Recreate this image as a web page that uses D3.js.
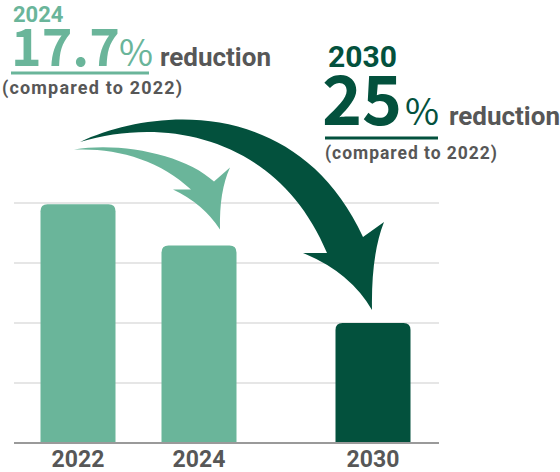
<!DOCTYPE html>
<html>
<head>
<meta charset="utf-8">
<script src="https://cdn.jsdelivr.net/npm/d3@7"></script>
<style>
  html, body { margin: 0; padding: 0; background: #fff; }
  svg { display: block; }
</style>
</head>
<body>
<svg id="chart" width="560" height="472"></svg>
<script>
// data
const years = ['2022', '2024', '2030'];
const emissions = [3.98, 3.29, 2.0];   // relative level
const gridTicks = [1, 2, 3, 4];
const barColors = ['#6ab59a', '#6ab59a', '#03513d'];

const LIGHT = '#6ab59a';
const DARK = '#03513d';
const GRAY = '#575757';

const svg = d3.select('#chart');

// scales
const x = d3.scaleOrdinal().domain(years).range([78, 199, 373]);
const y = d3.scaleLinear().domain([0, 4]).range([443, 203]);
const barW = 75;
const r = 7;

// grid
svg.append('g')
    .selectAll('line')
    .data(gridTicks)
    .enter()
    .append('line')
    .attr('x1', 14).attr('x2', 439)
    .attr('y1', d => y(d)).attr('y2', d => y(d))
    .attr('stroke', '#dedede')
    .attr('stroke-width', 1.5);

// bars, rounded top corners only
const barPath = (cx, top, bottom) => {
    const l = cx - barW / 2, rt = cx + barW / 2;
    return `M${l},${bottom}V${top + r}Q${l},${top} ${l + r},${top}H${rt - r}Q${rt},${top} ${rt},${top + r}V${bottom}Z`;
};

svg.append('g')
    .selectAll('path')
    .data(years)
    .enter()
    .append('path')
    .attr('d', (d, i) => barPath(x(d), y(emissions[i]), y(0)))
    .attr('fill', (d, i) => barColors[i]);

// baseline
svg.append('line')
    .attr('x1', 14).attr('x2', 439)
    .attr('y1', y(0)).attr('y2', y(0))
    .attr('stroke', '#9a9a9a')
    .attr('stroke-width', 2);

// x labels
svg.append('g')
    .selectAll('text')
    .data(years)
    .enter()
    .append('text')
    .attr('x', d => x(d))
    .attr('y', 467)
    .attr('text-anchor', 'middle')
    .attr('font-family', 'Roboto, sans-serif')
    .attr('font-weight', 700)
    .attr('font-size', 23)
    .attr('fill', GRAY)
    .text(d => d);

// curved arrows, points relative to the tip
const arrowPath = (tip, p) => {
    const P = ([dx, dy]) => `${tip[0] + dx},${tip[1] + dy}`;
    return `M${P(p.tail)}` +
        `C${P(p.o1)} ${P(p.o2)} ${P(p.rn)}` +
        `L${P(p.rb)}` +
        `Q${P(p.rc)} ${P([0, 0])}` +
        `Q${P(p.lc)} ${P(p.lb)}` +
        `L${P(p.ln)}` +
        `C${P(p.i2)} ${P(p.i1)} ${P(p.tail)}Z`;
};

const lightTip = [x('2024') + 21, y(emissions[1]) - 16];
svg.append('path')
    .attr('d', arrowPath(lightTip, {
        tail: [-146, -80], o1: [-100, -88], o2: [-35, -75], rn: [-6, -48],
        rb: [10, -62], rc: [-1, -38], lc: [-17, -26], lb: [-47, -40],
        ln: [-29, -40], i2: [-60, -70], i1: [-105, -82]
    }))
    .attr('fill', LIGHT);

const darkTip = [x('2030') - 1, y(emissions[2]) - 13];
svg.append('path')
    .attr('d', arrowPath(darkTip, {
        tail: [-292, -168], o1: [-212, -205], o2: [-72, -210], rn: [-9, -73],
        rb: [12, -88], rc: [-1, -55], lc: [-22, -38], lb: [-69, -57],
        ln: [-45, -57], i2: [-92, -170], i1: [-202, -195]
    }))
    .attr('fill', DARK);

// annotation blocks
const addText = (tx, ty, str, opts) => {
    const t = svg.append('text')
        .attr('x', tx).attr('y', ty)
        .attr('font-family', opts.family || 'Roboto, sans-serif')
        .attr('font-weight', opts.weight || 700)
        .attr('font-size', opts.size)
        .attr('fill', opts.fill)
        .text(str);
    if (opts.len) t.attr('textLength', opts.len).attr('lengthAdjust', 'spacing');
    return t;
};

const CJK = '"Noto Sans CJK JP", sans-serif';

// 2024
addText(13, 22, '2024', { size: 22, fill: LIGHT });
addText(11, 66, '17.7', { size: 52, fill: LIGHT, family: CJK });
addText(119, 66, '%', { size: 37, fill: LIGHT, family: CJK, weight: 400 });
svg.append('rect').attr('x', 11).attr('y', 71.5).attr('width', 138).attr('height', 3).attr('fill', LIGHT);
addText(160, 66, 'reduction', { size: 26, fill: GRAY });
addText(2, 94, '(compared to 2022)', { size: 18, fill: GRAY, len: 180 });

// 2030
addText(328, 66.5, '2030', { size: 30, fill: DARK });
addText(322, 125, '25', { size: 68, fill: DARK, family: CJK });
addText(405, 125, '%', { size: 37, fill: DARK, family: CJK, weight: 400 });
svg.append('rect').attr('x', 325).attr('y', 136.5).attr('width', 113).attr('height', 3).attr('fill', DARK);
addText(449, 125, 'reduction', { size: 26, fill: GRAY });
addText(325, 159, '(compared to 2022)', { size: 17.5, fill: GRAY, len: 172 });
</script>
</body>
</html>
